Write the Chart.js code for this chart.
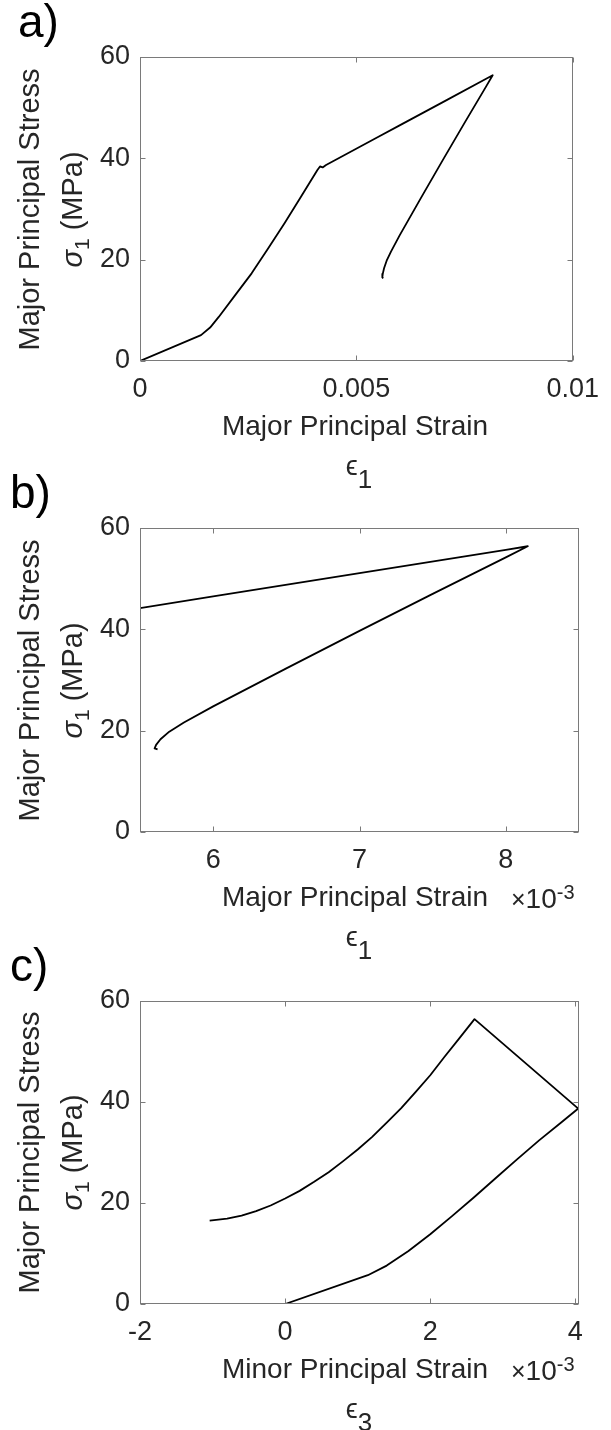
<!DOCTYPE html>
<html>
<head>
<meta charset="utf-8">
<script src="https://cdn.jsdelivr.net/npm/chart.js@4.4.1/dist/chart.umd.min.js"></script>
<style>
  body { margin: 0; background: #fff; width: 611px; height: 1430px; position: relative; overflow: hidden;
         font-family: "Liberation Sans", Arial, sans-serif; color: #262626; }
  canvas { position: absolute; left: 0; }
  .t { position: absolute; white-space: nowrap; line-height: 1; z-index: 2; }
  .sub { position: relative; }
</style>
</head>
<body>
<canvas id="chartA" width="611" height="470" style="top:0px"></canvas>
<canvas id="chartB" width="611" height="475" style="top:470px"></canvas>
<canvas id="chartC" width="611" height="485" style="top:945px"></canvas>
<script>
// Panels a) and b): major principal strain (x 10^-3) vs major principal stress (MPa)
var strain1 = [0, 1.41, 1.62, 1.82, 2.20, 2.58, 2.96, 3.34, 3.72, 4.10, 4.16, 4.22, 4.30,
  5.5, 6.0, 7.0, 8.0, 8.15,
  8.0, 7.5, 7.0, 6.5, 6.0, 5.8, 5.7, 5.64, 5.61, 5.60, 5.62];
var stress1 = [0, 5.1, 6.6, 8.7, 13.0, 17.3, 22.2, 27.2, 32.4, 37.7, 38.4, 38.2, 38.7,
  44.2, 46.5, 51.1, 55.7, 56.4,
  54.2, 47.0, 39.7, 32.3, 24.8, 21.6, 19.8, 18.3, 17.2, 16.5, 16.3];

// Panel c): minor principal strain (x 10^-3) vs major principal stress (MPa)
var strain3 = [0, 1.14, 1.4, 1.7, 2.0, 2.3, 2.6, 2.9, 3.2, 3.5, 3.8, 4.04,
  2.61, 2.4, 2.2, 2.0, 1.8, 1.6, 1.4, 1.2, 1.0, 0.8, 0.6, 0.4, 0.2, 0, -0.2, -0.4, -0.6, -0.8, -1.04];
var stress3 = [0, 5.7, 7.6, 10.5, 13.8, 17.4, 21.1, 24.9, 28.7, 32.4, 35.9, 38.7,
  56.4, 52.6, 49.0, 45.3, 42.0, 38.8, 35.9, 33.1, 30.6, 28.3, 26.1, 24.2, 22.4, 20.9, 19.5, 18.4, 17.5, 16.9, 16.5];

// Tick values
var stressTicks = [0, 20, 40, 60];
var ticksA = [0, 5, 10];
var ticksB = [6, 7, 8];
var ticksC = [-2, 0, 2, 4];

var boxColor = '#7a7a7a';
var textColor = '#262626';

// MATLAB style box with inward ticks on all four sides
var boxPlugin = {
  id: 'box',
  afterDatasetsDraw: function (chart) {
    var ctx = chart.ctx;
    var a = chart.chartArea;
    var xs = chart.scales.x, ys = chart.scales.y;
    var l = Math.round(a.left) + 0.5, r = Math.round(a.right) - 0.5;
    var t = Math.round(a.top) + 0.5, b = Math.round(a.bottom) - 0.5;
    ctx.save();
    ctx.strokeStyle = boxColor;
    ctx.lineWidth = 1;
    ctx.strokeRect(l, t, r - l, b - t);
    ctx.beginPath();
    xs.ticks.forEach(function (tk) {
      var px = Math.round(xs.getPixelForValue(tk.value)) + 0.5;
      ctx.moveTo(px, b); ctx.lineTo(px, b - 5);
      ctx.moveTo(px, t); ctx.lineTo(px, t + 5);
    });
    ys.ticks.forEach(function (tk) {
      var py = Math.round(ys.getPixelForValue(tk.value)) + 0.5;
      ctx.moveTo(l, py); ctx.lineTo(l + 5, py);
      ctx.moveTo(r, py); ctx.lineTo(r - 5, py);
    });
    ctx.stroke();
    ctx.restore();
  }
};

function toPoints(xs, ys) {
  return xs.map(function (x, i) { return { x: x, y: ys[i] }; });
}

function makeChart(id, points, xMin, xMax, xTicks, xFormat, padTop, xHeight) {
  return new Chart(document.getElementById(id), {
    type: 'scatter',
    data: {
      datasets: [{
        data: points,
        showLine: true,
        borderColor: '#000',
        borderWidth: 1.8,
        borderJoinStyle: 'round',
        pointRadius: 0,
        tension: 0
      }]
    },
    options: {
      responsive: false,
      animation: false,
      events: [],
      layout: { padding: { top: padTop, right: 32, left: 0, bottom: 0 } },
      plugins: { legend: { display: false }, tooltip: { enabled: false } },
      scales: {
        x: {
          type: 'linear',
          min: xMin,
          max: xMax,
          grid: { display: false, drawTicks: false },
          border: { display: false },
          afterBuildTicks: function (s) { s.ticks = xTicks.map(function (v) { return { value: v }; }); },
          afterFit: function (s) { s.height = xHeight; },
          ticks: {
            padding: 12,
            color: textColor,
            font: { family: 'Liberation Sans', size: 27 },
            maxRotation: 0,
            callback: xFormat
          }
        },
        y: {
          min: 0,
          max: 60,
          grid: { display: false, drawTicks: false },
          border: { display: false },
          afterBuildTicks: function (s) { s.ticks = stressTicks.map(function (v) { return { value: v }; }); },
          afterFit: function (s) { s.width = 140; },
          ticks: {
            padding: 10,
            color: textColor,
            font: { family: 'Liberation Sans', size: 27 }
          }
        }
      }
    },
    plugins: [boxPlugin]
  });
}

makeChart('chartA', toPoints(strain1, stress1), 0, 10, ticksA,
  function (v) { return String(v / 1000); }, 57, 109);
makeChart('chartB', toPoints(strain1, stress1), 5.5, 8.5, ticksB,
  function (v) { return String(v); }, 58, 113);
makeChart('chartC', toPoints(strain3, stress3), -2, 4.05, ticksC,
  function (v) { return String(v); }, 56, 126);

// Text labels as HTML so subscripts stay real text
function addText(html, x, baseline, size, align, color) {
  var d = document.createElement('div');
  d.className = 't';
  d.innerHTML = html;
  d.style.fontSize = size + 'px';
  d.style.top = (baseline - 0.8465 * size) + 'px';
  d.style.color = color || textColor;
  d.style.left = x + 'px';
  if (align === 'center') d.style.transform = 'translateX(-50%)';
  document.body.appendChild(d);
}

function addYTitle(html, baselineX, centerY, size) {
  var d = document.createElement('div');
  d.className = 't';
  d.innerHTML = html;
  d.style.fontSize = size + 'px';
  d.style.width = '400px';
  d.style.textAlign = 'center';
  d.style.height = size + 'px';
  var cx = baselineX - 0.3465 * size;
  d.style.left = (cx - 200) + 'px';
  d.style.top = (centerY - size / 2) + 'px';
  d.style.transform = 'rotate(-90deg)';
  document.body.appendChild(d);
}

var sigma = '<i>&sigma;</i><span class="sub" style="font-size:21px;top:7px">1</span>&nbsp;(MPa)';
var times = '<span style="font-size:25px">&times;</span>10<span class="sub" style="font-size:20px;top:-9px">-3</span>';

function epsLabel(n) {
  return '<span style="font-size:27px">&#x03F5;</span><span class="sub" style="font-size:26px;top:13px">' + n + '</span>';
}

var panels = [
  { letter: 'a)', top: 0, axisTop: 57, axisBottom: 361, title: 'Major Principal Strain', exp: false, eps: '1' },
  { letter: 'b)', top: 470, axisTop: 528, axisBottom: 832, title: 'Major Principal Strain', exp: true, eps: '1' },
  { letter: 'c)', top: 945, axisTop: 1001, axisBottom: 1304, title: 'Minor Principal Strain', exp: true, eps: '3' }
];

panels.forEach(function (p, i) {
  var midY = (p.axisTop + p.axisBottom) / 2;
  addText(p.letter, [18, 10, 10][i], p.axisTop - 20, 46, 'left', '#000');
  addYTitle('Major Principal Stress', 39, midY, 29);
  addYTitle(sigma, 82, midY, 29);
  addText(p.title, 355, p.axisBottom + 75, 28, 'center');
  if (p.exp) addText(times, 511, p.axisBottom + 77, 28, 'left');
  addText(epsLabel(p.eps), 359, p.axisBottom + 115, 27, 'center');
});
</script>
</body>
</html>
